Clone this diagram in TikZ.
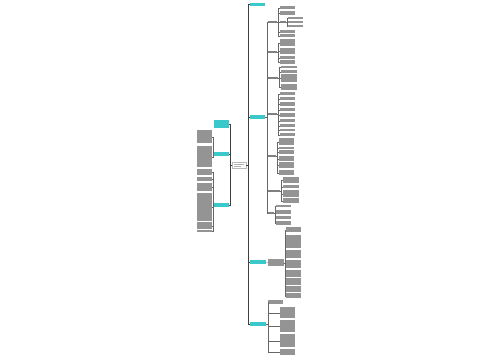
\documentclass[tikz,border=0pt]{standalone}
\usepackage[dvipsnames]{xcolor}
\definecolor{topicteal}{RGB}{58,200,202}

\begin{document}
\begin{tikzpicture}[x=1pt,y=-1pt,
    topic/.style={fill=topicteal,inner sep=0,anchor=north west},
    leaf/.style={fill=black!42,inner sep=0,anchor=north west,minimum width=15pt},
    sub/.style={fill=black!50,inner sep=0,anchor=north west,minimum height=2pt},
    link/.style={draw=black!60,line width=0.4pt},
    bus/.style={draw=black!75,line width=0.7pt}]
        \useasboundingbox (0,0) rectangle (500,360);
        \node[draw=gray!55,fill=white,inner sep=0,anchor=north west,minimum width=14pt,minimum height=6pt] (root) at (232,162) {};
        \fill[black!30] (234,164) rectangle (244,164.8);  % title lines
        \fill[black!30] (234,166) rectangle (241,166.8);

        % left topics
        \node[topic,minimum width=15pt,minimum height=8pt] (l1) at (214,120) {};
        \node[topic,minimum width=15pt,minimum height=3.5pt] (l2) at (214,152) {};
        \node[topic,minimum width=15pt,minimum height=3.5pt] (l3) at (214,203) {};
        \foreach \t in {l1,l2,l3}
            \draw[bus] (root.west) -- ++(-1.5,0) |- (\t.east);
        \foreach \a/\b [count=\i] in {130/143,146/167} {
            \node[leaf,minimum height={(\b-\a)*1pt}] (lb\i) at (197,\a) {};
            \draw[link] (l2.west) -- ++(-1,0) |- (lb\i.east);
        }
        \foreach \a/\b [count=\i] in {169/175,177/181,183/191,193/221,222/229,230/232} {
            \node[leaf,minimum height={(\b-\a)*1pt}] (lc\i) at (197,\a) {};
            \draw[link] (l3.west) -- ++(-1,0) |- (lc\i.east);
        }

        % right topics
        \node[topic,minimum width=15pt,minimum height=3pt] (r1) at (250,3) {};
        \node[topic,minimum width=15pt,minimum height=4pt] (r2) at (250,115) {};
        \node[topic,minimum width=16pt,minimum height=4pt] (r3) at (250,260) {};
        \node[topic,minimum width=16pt,minimum height=4pt] (r4) at (250,322) {};
        \foreach \t in {r1,r2,r3,r4}
            \draw[bus] (root.east) -- ++(1.5,0) |- (\t.west);

        % second topic
        \foreach \n/\y/\w in {1/22/9,2/52/9,3/78/10,4/114/9,5/156/8,6/191/12,7/213/6} {
            \node[sub,minimum width=\w pt] (s\n) at (268,\y-1) {};
            \draw[link] (r2.east) -- ++(1.5,0) |- (s\n.west);
        }
        \node[sub,minimum width=6pt] (s1x) at (280,21) {};
        \foreach \a/\b [count=\i] in {6/9,11/15,30/33,34/37} {
            \node[leaf,minimum height={(\b-\a)*1pt}] (s1l\i) at (279.5,\a) {};
            \draw[link] (s1.east) -- ++(1,0) |- (s1l\i.west);
        }
        \draw[link] (s1.east) -- (s1x.west);
        \foreach \a/\b [count=\i] in {17/19,21/23,25/27} {
            \node[leaf,minimum height={(\b-\a)*1pt}] (s1xl\i) at (288,\a) {};
            \draw[link] (s1x.east) -- ++(0.8,0) |- (s1xl\i.west);
        }
        \foreach \a/\b [count=\i] in {39/46,48/54,56/59,60/64} {
            \node[leaf,minimum height={(\b-\a)*1pt}] (s2l\i) at (279.5,\a) {};
            \draw[link] (s2.east) -- ++(1,0) |- (s2l\i.west);
        }
        \foreach \a/\b [count=\i] in {66/68,70/73,74/82,84/90} {
            \node[leaf,minimum width=16pt,minimum height={(\b-\a)*1pt}] (s3l\i) at (280.5,\a) {};
            \draw[link] (s3.east) -- ++(1,0) |- (s3l\i.west);
        }
        \foreach \a/\b [count=\i] in {92/95,97/100,102/106,108/111,113/117,119/122,124/127,129/131,133/136} {
            \node[leaf,minimum height={(\b-\a)*1pt}] (s4l\i) at (279.5,\a) {};
            \draw[link] (s4.east) -- ++(1,0) |- (s4l\i.west);
        }
        \foreach \a/\b [count=\i] in {138/145,147/149,150/154,156/161,162/168,170/175} {
            \node[leaf,minimum height={(\b-\a)*1pt}] (s5l\i) at (278.5,\a) {};
            \draw[link] (s5.east) -- ++(1,0) |- (s5l\i.west);
        }
        \foreach \a/\b [count=\i] in {177/183,185/188,190/197,198/203} {
            \node[leaf,minimum width=16pt,minimum height={(\b-\a)*1pt}] (s6l\i) at (282.5,\a) {};
            \draw[link] (s6.east) -- ++(1,0) |- (s6l\i.west);
        }
        \foreach \a/\b [count=\i] in {205/207,210/214,216/219,221/225} {
            \node[leaf,minimum height={(\b-\a)*1pt}] (s7l\i) at (275.5,\a) {};
            \draw[link] (s7.east) -- ++(1,0) |- (s7l\i.west);
        }

        % third topic
        \node[leaf,minimum width=16pt,minimum height=7pt] (c3) at (267.5,259) {};
        \draw[link] (r3.east) -- (c3.west);
        \foreach \a/\b [count=\i] in {227/232,235/248,250/258,260/268,270/277,278/285,286/292,293/298} {
            \node[leaf,minimum height={(\b-\a)*1pt}] (c3l\i) at (285.5,\a) {};
            \draw[link] (c3.east) -- ++(1,0) |- (c3l\i.west);
        }

        % fourth topic
        \node[leaf,minimum height=4pt] (c4) at (268,300) {};
        \draw[link] (r4.east) -- ++(1.5,0) |- (c4.west);
        \foreach \a/\b [count=\i] in {307/318,320/332,334/347,349/355} {
            \node[leaf,minimum height={(\b-\a)*1pt}] (c4l\i) at (280,\a) {};
            \draw[link] (r4.east) -- ++(1.5,0) |- (c4l\i.west);
        }
    \end{tikzpicture}
\end{document}
